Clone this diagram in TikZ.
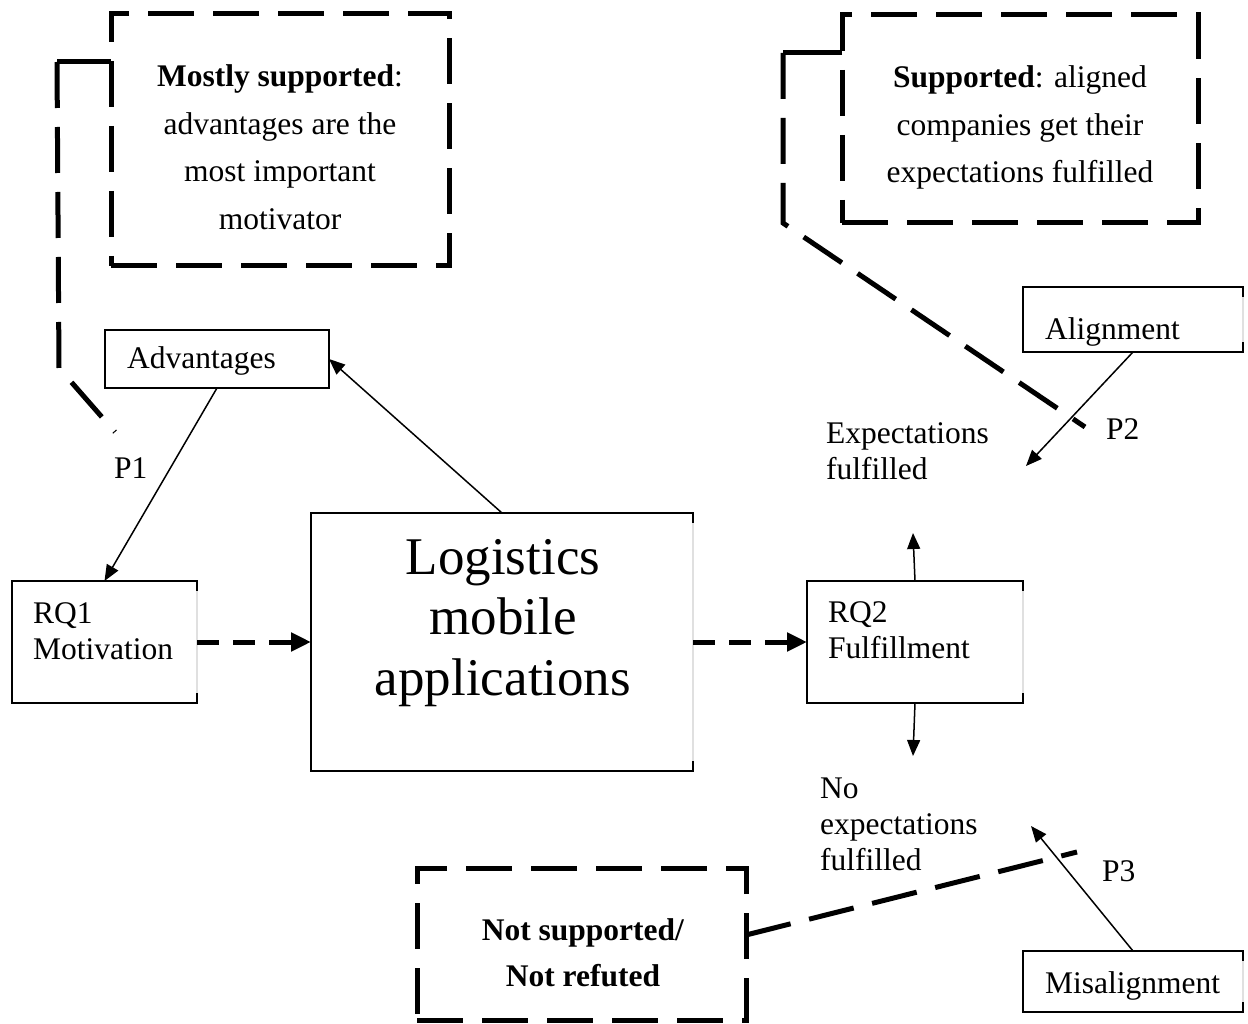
\documentclass[tikz,border=0pt]{standalone}
\usepackage{fontspec}
\setmainfont{Liberation Serif}
\usetikzlibrary{arrows.meta}

\tikzset{
  plain/.style={font=\fontsize{31.5}{36}\selectfont, inner sep=0pt, anchor=base west, align=left},
  claimtext/.style={font=\fontsize{31.5}{47.5}\selectfont, inner sep=0pt, anchor=base, align=center},
  box/.style={draw, line width=1.5pt, rectangle, inner sep=0pt, outer sep=0pt},
  claim/.style={draw, line width=5pt, dash pattern=on 46pt off 19pt, rectangle, inner sep=0pt, outer sep=0pt},
  callout/.style={line width=5pt, dash pattern=on 46pt off 19pt},
  stub/.style={line width=5pt},
  link/.style={line width=1.5pt, -{Triangle[length=16pt,width=13pt]}},
  flow/.style={line width=5pt, dash pattern=on 22pt off 14pt, -{Triangle[length=20pt,width=18pt]}},
  faint/.style={line width=1.5pt, draw=black!12},
}

\begin{document}
\begin{tikzpicture}[x=1pt, y=-1pt]
\useasboundingbox (0,0) rectangle (1248,1024);

% --- hypothesis boxes (thick dashed); multi-line texts sit on their last baseline ---
\node[claim, minimum width=338pt, minimum height=252pt] (ms) at (280,140) {};
\node[claimtext] (mstext) at (280,229.5)
  {\textbf{Mostly supported}:\\advantages are the\\most important\\motivator};

\node[claim, minimum width=356pt, minimum height=208pt] (cs) at (1020,119) {};
\node[claimtext] (cstext) at (1020,183)
  {\textbf{Supported}: aligned\\companies get their\\expectations fulfilled};

\node[claim, minimum width=329pt, minimum height=152pt] (ns) at (581.5,944) {};
\node[claimtext, font=\fontsize{31.5}{46}\selectfont] (nstext) at (583,986)
  {\textbf{Not supported/}\\\textbf{Not refuted}};

% --- concept boxes ---
\node[box, minimum width=224pt, minimum height=58pt] (adv) at (217,359) {};
\node[plain] (advtext) at (127,369) {Advantages};

\node[box, minimum width=185pt, minimum height=122pt] (rq1) at (104.5,642) {};
\node[plain] (rq1text) at (33,659) {RQ1\\Motivation};

\node[box, minimum width=382pt, minimum height=258pt] (logi) at (502,642) {};
\node[font=\fontsize{53}{60.5}\selectfont, inner sep=0pt, anchor=base, align=center]
  (logitext) at (503,695) {Logistics\\mobile\\applications};

\node[box, minimum width=216pt, minimum height=122pt] (rq2) at (915,642) {};
\node[plain] (rq2text) at (828,658) {RQ2\\Fulfillment};

\node[box, minimum width=220pt, minimum height=65pt] (aln) at (1133,319.5) {};
\node[plain] (alntext) at (1045,340) {Alignment};

\node[box, minimum width=220pt, minimum height=61pt] (mis) at (1133,981.5) {};
\node[plain] (mistext) at (1045,993) {Misalignment};

% washed-out right edges of the thin boxes
\foreach \b in {rq1,logi,rq2,aln,mis}
  \draw[faint] ([yshift=-10pt]\b.north east) -- ([yshift=10pt]\b.south east);

% --- outcome labels ---
\node[plain] (exp) at (826,479) {Expectations\\fulfilled};
\node[plain] (noexp) at (820,870) {No\\expectations\\fulfilled};
\node[plain] (p1) at (114,478) {P1};
\node[plain] (p2) at (1106,439) {P2};
\node[plain] (p3) at (1102,881) {P3};

% --- end points of free connectors ---
\coordinate (upend) at (913,533);
\coordinate (downend) at (913,756);
\coordinate (p2end) at (1026,466);
\coordinate (p3end) at (1031,826);
\coordinate (c1a) at (57,62);
\coordinate (c1b) at (59,368);
\coordinate (c1c) at (115,432);
\coordinate (c2a) at (783,53);
\coordinate (c2b) at (783,223);
\coordinate (c2c) at (1085,427);
\coordinate (c3a) at (1077,852);

% --- connectors ---
\draw[link] (logi.north) -- (adv.east);
\draw[link] (adv.south) -- (rq1.north);
\draw[flow] (rq1.east) -- (logi.west);
\draw[flow] (logi.east) -- (rq2.west);
\draw[link] (rq2.north) -- (upend);
\draw[link] (rq2.south) -- (downend);
\draw[link] (aln.south) -- (p2end);
\draw[link] (mis.north) -- (p3end);

% --- callout lines from the hypothesis boxes ---
\draw[stub] (ms.west |- c1a) -- (c1a);
\draw[callout] (c1a) -- (c1b) -- (c1c);
\draw[stub] (cs.west |- c2a) -- (c2a);
\draw[callout] (c2a) -- (c2b) -- (c2c);
\draw[callout] (ns.east |- 0,935) -- (c3a);
\end{tikzpicture}
\end{document}
